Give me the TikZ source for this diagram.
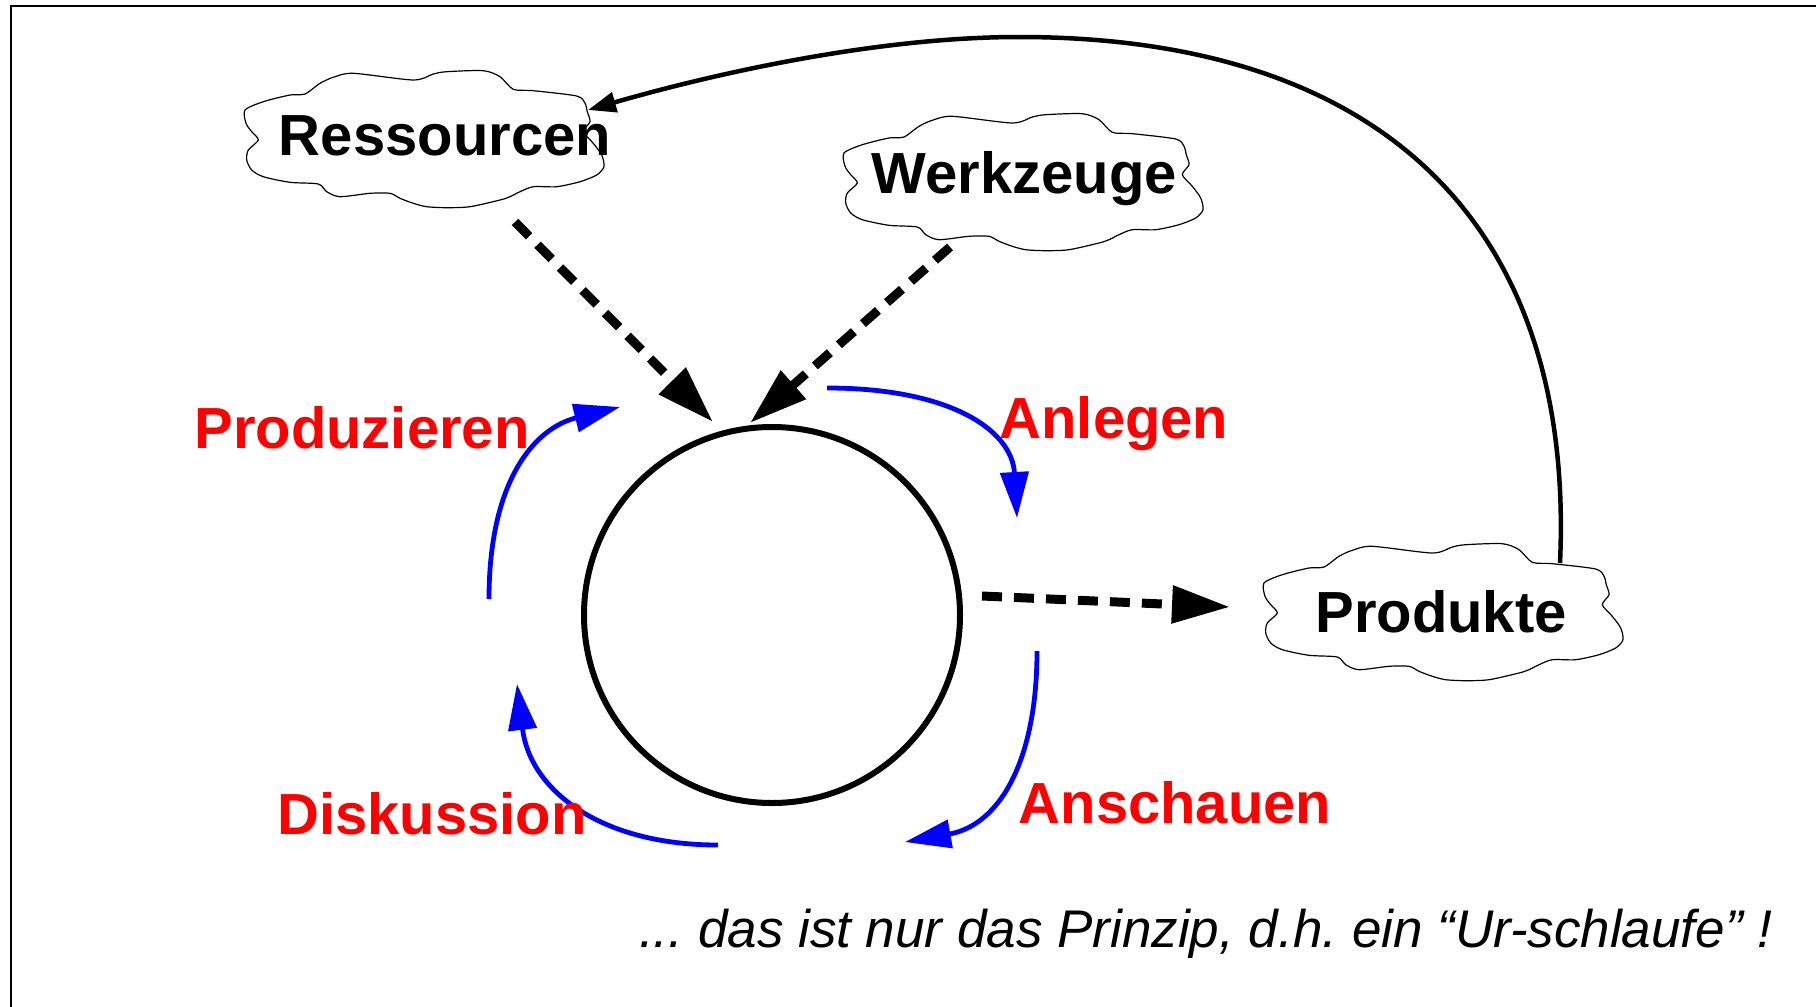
\documentclass[tikz,border=0pt]{standalone}
\usepackage{fontspec}
\setmainfont{Liberation Sans}
\usetikzlibrary{arrows.meta}
\begin{document}
\begin{tikzpicture}[x=1pt,y=-1pt,
 lbl/.style={anchor=base, inner sep=0pt, font=\fontsize{58}{60}\selectfont\bfseries},
 redlbl/.style={lbl, text=red},
 dasharrow/.style={line width=9pt, dash pattern=on 20pt off 12pt, -{Triangle[length=58pt,width=36pt]}},
 bluearrow/.style={blue, line width=4.8pt, -{Triangle[length=46pt,width=28pt]}},
 backarrow/.style={line width=4.5pt, -{Triangle[length=28pt,width=20pt]}},
 cloudline/.style={line width=1.2pt},
 cloudshape/.pic={\draw[cloudline] plot[smooth cycle, tension=0.45] coordinates {
 (1,40) (19.3,31.7) (46,25) (61,24) (76,13.3) (89.3,7.3) (109.3,3.3) (169.3,10)
 (189.3,4) (202.7,1.7) (239.3,0.7) (256,6.7) (269.3,19.3) (289.3,20.7) (332.7,26)
 (341,33.3) (343.3,41.7) (346,51.7) (339.3,61.7) (349.3,73.3) (357.7,85) (360,96.7)
 (352.7,105) (336,111.7) (312.7,116.7) (289.3,116.7) (276,121.7) (266,126.7) (256,130)
 (226,136.7) (202.7,137.7) (182.7,136.7) (169.3,133.3) (156,128.3) (146,123.3)
 (126,123.3) (96,126.7) (82.7,121.7) (74.3,114) (46,112.3) (19.3,106.7) (7.7,100)
 (2.7,90) (4.3,80) (14.3,70) (7.7,61.7) (2,53.3)};}
]
\useasboundingbox (0,0) rectangle (1816,1007);
% frame
\draw[line width=2.5pt] (11,1012) -- (11,6) -- (1822,6);

% cloud labels
\node[lbl] (res) at (445,155) {Ressourcen};
\node[lbl] (werk) at (1024.5,193) {Werkzeuge};
\node[lbl] (prod) at (1441,632) {Produkte};
\pic at (244,70) {cloudshape};
\pic at (843,113) {cloudshape};
\pic at (1263,543) {cloudshape};

% central loop
\node[circle, draw, line width=6pt, minimum size=376pt, inner sep=0pt] (loop) at (772,615) {};

% connector end points
\coordinate (resout) at (515,222);
\coordinate (resin) at (713,422);
\coordinate (werkout) at (950,247);
\coordinate (werkin) at (750,423);
\coordinate (loopout) at (982,596);
\coordinate (prodin) at (1230,607);
\coordinate (prodtop) at (1560,563);
\coordinate (peak) at (1019,37);
\coordinate (resback) at (588,110);

\draw[dasharrow] (resout) -- (resin);
\draw[dasharrow] (werkout) -- (werkin);
\draw[dasharrow] (loopout) -- (prodin);

\draw[line width=4.5pt] (prodtop) .. controls (1575,232) and (1390,37) .. (peak);
\draw[backarrow] (peak) .. controls (880,37) and (720,72) .. (resback);

% blue cycle arrows
\coordinate (a1) at (827,388);
\coordinate (a2) at (1017,518);
\coordinate (b1) at (1037,651);
\coordinate (b2) at (905,842);
\coordinate (c1) at (718,845);
\coordinate (c2) at (517,684);
\coordinate (d1) at (489,599);
\coordinate (d2) at (620,407);
\draw[bluearrow] (a1) .. controls (950,388) and (1012,430) .. (a2);
\draw[bluearrow] (b1) .. controls (1037,760) and (1000,825) .. (b2);
\draw[bluearrow] (c1) .. controls (600,845) and (530,790) .. (c2);
\draw[bluearrow] (d1) .. controls (489,480) and (535,428) .. (d2);

% red labels
\node[redlbl] (lprod) at (362,448) {Produzieren};
\node[redlbl] (lanl) at (1114,438) {Anlegen};
\node[redlbl] (lansch) at (1175,823) {Anschauen};
\node[redlbl] (ldisk) at (432,834) {Diskussion};

% note
\node[anchor=base west, inner sep=0pt, font=\fontsize{53}{56}\selectfont\itshape] (note) at (639,947)
 {\frenchspacing ... das ist nur das Prinzip, d.h. ein “Ur-schlaufe” !};
\end{tikzpicture}
\end{document}
